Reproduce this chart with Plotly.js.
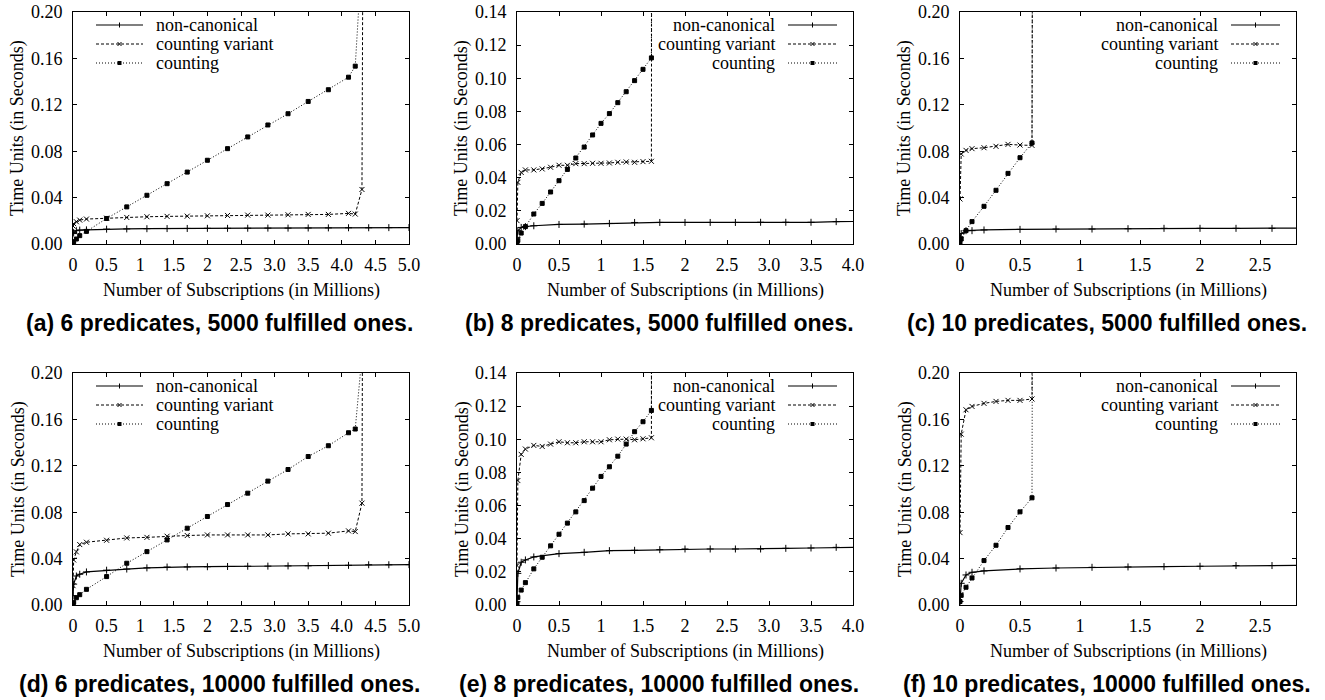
<!DOCTYPE html>
<html>
<head>
<meta charset="utf-8">
<script src="https://cdn.plot.ly/plotly-3.0.1.min.js"></script>
<style>html,body{margin:0;padding:0;background:#fff;}#chart{width:1325px;height:700px;}</style>
</head>
<body>
<div id="chart"></div>
<script>
// ---------------- DATA ----------------
const seriesNames = ['non-canonical', 'counting variant', 'counting'];
const captions = [
  '(a) 6 predicates, 5000 fulfilled ones.',
  '(b) 8 predicates, 5000 fulfilled ones.',
  '(c) 10 predicates, 5000 fulfilled ones.',
  '(d) 6 predicates, 10000 fulfilled ones.',
  '(e) 8 predicates, 10000 fulfilled ones.',
  '(f) 10 predicates, 10000 fulfilled ones.'
];
const xTitle = 'Number of Subscriptions (in Millions)';
const yTitle = 'Time Units (in Seconds)';

// tick labels
const x5Ticks = [0, 0.5, 1, 1.5, 2, 2.5, 3, 3.5, 4, 4.5, 5];
const x5Text  = ['0', '0.5', '1', '1.5', '2', '2.5', '3.0', '3.5', '4.0', '4.5', '5.0'];
const x4Ticks = [0, 0.5, 1, 1.5, 2, 2.5, 3, 3.5, 4];
const x4Text  = ['0', '0.5', '1', '1.5', '2', '2.5', '3.0', '3.5', '4.0'];
const x28Ticks = [0, 0.5, 1, 1.5, 2, 2.5];
const x28Text  = ['0', '0.5', '1', '1.5', '2', '2.5'];

// (a) 6 predicates, 5000
const a_nc_x  = [0, 0.01, 0.05, 0.1, 0.2, 0.5, 0.8, 1.1, 1.4, 1.7, 2.0, 2.3, 2.6, 2.9, 3.2, 3.5, 3.8, 4.1, 4.4, 4.7, 5.0];
const a_nc_y  = [0.009, 0.010, 0.0115, 0.012, 0.0122, 0.0128, 0.013, 0.0132, 0.0133, 0.0134, 0.0135, 0.0135, 0.0136, 0.0137, 0.0137, 0.0138, 0.0139, 0.014, 0.014, 0.0141, 0.0142];
const a_var_x = [0, 0.01, 0.05, 0.1, 0.2, 0.5, 0.8, 1.1, 1.4, 1.7, 2.0, 2.3, 2.6, 2.9, 3.2, 3.5, 3.8, 4.1, 4.2, 4.3, 4.4];
const a_var_y = [0.0155, 0.0175, 0.0192, 0.0206, 0.0215, 0.0223, 0.0229, 0.0235, 0.0238, 0.024, 0.0243, 0.0246, 0.0249, 0.0249, 0.0252, 0.0255, 0.0255, 0.0264, 0.0258, 0.047, 1.6];
const a_cnt_x = [0, 0.01, 0.05, 0.1, 0.2, 0.5, 0.8, 1.1, 1.4, 1.7, 2.0, 2.3, 2.6, 2.9, 3.2, 3.5, 3.8, 4.1, 4.2, 4.3];
const a_cnt_y = [0.0006, 0.002, 0.0043, 0.0072, 0.0109, 0.022, 0.032, 0.042, 0.052, 0.062, 0.0722, 0.0822, 0.0923, 0.1026, 0.1123, 0.1229, 0.133, 0.1438, 0.1533, 0.25];

// (b) 8 predicates, 5000
const b_nc_x  = [0, 0.01, 0.05, 0.1, 0.2, 0.5, 0.8, 1.1, 1.4, 1.7, 2.0, 2.3, 2.6, 2.9, 3.2, 3.5, 3.8, 4.1];
const b_nc_y  = [0.004, 0.008, 0.0100, 0.0105, 0.011, 0.0118, 0.012, 0.0124, 0.013, 0.013, 0.013, 0.013, 0.013, 0.0131, 0.0131, 0.0131, 0.0135, 0.0136];
const b_var_x = [0, 0.01, 0.05, 0.1, 0.2, 0.3, 0.4, 0.5, 0.6, 0.7, 0.8, 0.9, 1.0, 1.1, 1.2, 1.3, 1.4, 1.5, 1.6, 1.7];
const b_var_y = [0.0141, 0.0372, 0.0432, 0.0447, 0.0447, 0.0453, 0.0463, 0.0475, 0.0475, 0.0485, 0.0485, 0.0487, 0.0487, 0.0489, 0.0493, 0.0495, 0.0493, 0.0497, 0.0499, 5];
const b_cnt_x = [0, 0.01, 0.05, 0.1, 0.2, 0.3, 0.4, 0.5, 0.6, 0.7, 0.8, 0.9, 1.0, 1.1, 1.2, 1.3, 1.4, 1.5, 1.6, 1.7];
const b_cnt_y = [0.0006, 0.0022, 0.0066, 0.0105, 0.0181, 0.0245, 0.0314, 0.0382, 0.045, 0.0519, 0.0585, 0.0658, 0.0728, 0.0787, 0.0853, 0.0919, 0.0986, 0.1054, 0.1123, 5];

// (c) 10 predicates, 5000
const c_nc_x  = [0, 0.01, 0.05, 0.1, 0.2, 0.5, 0.8, 1.1, 1.4, 1.7, 2.0, 2.3, 2.6, 2.9];
const c_nc_y  = [0.006, 0.009, 0.0115, 0.0115, 0.0121, 0.0126, 0.0129, 0.0129, 0.0132, 0.0135, 0.0135, 0.0135, 0.0135, 0.0138];
const c_var_x = [0, 0.01, 0.05, 0.1, 0.2, 0.3, 0.4, 0.5, 0.6, 0.7];
const c_var_y = [0.0388, 0.0776, 0.0807, 0.0822, 0.083, 0.0842, 0.0859, 0.0853, 0.085, 5];
const c_cnt_x = [0, 0.01, 0.05, 0.1, 0.2, 0.3, 0.4, 0.5, 0.6, 0.7];
const c_cnt_y = [0.001, 0.0043, 0.0115, 0.0193, 0.0325, 0.0463, 0.0609, 0.0744, 0.0871, 5];

// (d) 6 predicates, 10000
const d_nc_x  = [0, 0.01, 0.05, 0.1, 0.2, 0.5, 0.8, 1.1, 1.4, 1.7, 2.0, 2.3, 2.6, 2.9, 3.2, 3.5, 3.8, 4.1, 4.4, 4.7, 5.0];
const d_nc_y  = [0.008, 0.018, 0.025, 0.0265, 0.0285, 0.030, 0.031, 0.032, 0.0327, 0.0328, 0.033, 0.0332, 0.0334, 0.0335, 0.0337, 0.0338, 0.034, 0.0342, 0.0347, 0.0347, 0.0348];
const d_var_x = [0, 0.01, 0.05, 0.1, 0.2, 0.5, 0.8, 1.1, 1.4, 1.7, 2.0, 2.3, 2.6, 2.9, 3.2, 3.5, 3.8, 4.1, 4.2, 4.3, 4.4];
const d_var_y = [0.0167, 0.0388, 0.0458, 0.0521, 0.0541, 0.0558, 0.0578, 0.0583, 0.0593, 0.0599, 0.0604, 0.0604, 0.0604, 0.0604, 0.0613, 0.0613, 0.0619, 0.0639, 0.0633, 0.0878, 2];
const d_cnt_x = [0, 0.01, 0.05, 0.1, 0.2, 0.5, 0.8, 1.1, 1.4, 1.7, 2.0, 2.3, 2.6, 2.9, 3.2, 3.5, 3.8, 4.1, 4.2, 4.3];
const d_cnt_y = [0.001, 0.0023, 0.0063, 0.0089, 0.0135, 0.0245, 0.036, 0.046, 0.0561, 0.0662, 0.0763, 0.0866, 0.0964, 0.1068, 0.1168, 0.128, 0.1373, 0.1485, 0.1517, 0.215];

// (e) 8 predicates, 10000
const e_nc_x  = [0, 0.01, 0.05, 0.1, 0.2, 0.5, 0.8, 1.1, 1.4, 1.7, 2.0, 2.3, 2.6, 2.9, 3.2, 3.5, 3.8, 4.1];
const e_nc_y  = [0.002, 0.0191, 0.0258, 0.0272, 0.029, 0.031, 0.0318, 0.0328, 0.033, 0.0334, 0.0338, 0.0338, 0.0338, 0.0338, 0.0342, 0.0344, 0.0348, 0.0348];
const e_var_x = [0, 0.01, 0.05, 0.1, 0.2, 0.3, 0.4, 0.5, 0.6, 0.7, 0.8, 0.9, 1.0, 1.1, 1.2, 1.3, 1.4, 1.5, 1.6, 1.7];
const e_var_y = [0.0238, 0.0751, 0.0909, 0.0941, 0.0963, 0.0957, 0.0971, 0.0985, 0.0979, 0.0979, 0.0985, 0.0985, 0.0985, 0.0997, 0.1001, 0.1001, 0.0997, 0.1003, 0.1009, 5];
const e_cnt_x = [0, 0.01, 0.05, 0.1, 0.2, 0.3, 0.4, 0.5, 0.6, 0.7, 0.8, 0.9, 1.0, 1.1, 1.2, 1.3, 1.4, 1.5, 1.6, 1.7];
const e_cnt_y = [0.001, 0.0046, 0.009, 0.0135, 0.0218, 0.0288, 0.0357, 0.0427, 0.0494, 0.0562, 0.063, 0.0705, 0.0776, 0.0834, 0.0898, 0.0971, 0.1046, 0.1106, 0.1174, 5];

// (f) 10 predicates, 10000
const f_nc_x  = [0, 0.01, 0.05, 0.1, 0.2, 0.5, 0.8, 1.1, 1.4, 1.7, 2.0, 2.3, 2.6, 2.9];
const f_nc_y  = [0.003, 0.0187, 0.0259, 0.0282, 0.0294, 0.0311, 0.0319, 0.0325, 0.0328, 0.0331, 0.0334, 0.034, 0.034, 0.0342];
const f_var_x = [0, 0.01, 0.05, 0.1, 0.2, 0.3, 0.4, 0.5, 0.6, 0.7];
const f_var_y = [0.0624, 0.1473, 0.1683, 0.1712, 0.1738, 0.1755, 0.1764, 0.1764, 0.1776, 5];
const f_cnt_x = [0, 0.01, 0.05, 0.1, 0.2, 0.3, 0.4, 0.5, 0.6, 0.7];
const f_cnt_y = [0.003, 0.0083, 0.0153, 0.0233, 0.0383, 0.0515, 0.0668, 0.0803, 0.0924, 5];

// ---------------- LAYOUT / STYLE ----------------
const W = 1325, H = 700;
const PX = x => x / W;
const PY = y => 1 - y / H;
const SERIF = 'Liberation Serif, Times New Roman, serif';
const SANS = 'Liberation Sans, Arial, Helvetica, sans-serif';

const styles = [
  {dash: 'solid', width: 1.2, symbol: 'cross-thin-open', size: 5},
  {dash: '3px,2px', width: 1, symbol: 'x-thin-open', size: 5},
  {dash: '1px,2px', width: 1, symbol: 'square', size: 4}
];

const panels = [
  {xd: [73, 409],  yd: [12, 244],  xr: [0, 5],   xt: x5Ticks,  xl: x5Text,  yr: [0, 0.20], dy: 0.04, leg: 'left',
   data: [[a_nc_x, a_nc_y], [a_var_x, a_var_y], [a_cnt_x, a_cnt_y]]},
  {xd: [517, 853], yd: [12, 244],  xr: [0, 4],   xt: x4Ticks,  xl: x4Text,  yr: [0, 0.14], dy: 0.02, leg: 'right',
   data: [[b_nc_x, b_nc_y], [b_var_x, b_var_y], [b_cnt_x, b_cnt_y]]},
  {xd: [960, 1296], yd: [12, 244], xr: [0, 2.8], xt: x28Ticks, xl: x28Text, yr: [0, 0.20], dy: 0.04, leg: 'right',
   data: [[c_nc_x, c_nc_y], [c_var_x, c_var_y], [c_cnt_x, c_cnt_y]]},
  {xd: [73, 409],  yd: [373, 605], xr: [0, 5],   xt: x5Ticks,  xl: x5Text,  yr: [0, 0.20], dy: 0.04, leg: 'left',
   data: [[d_nc_x, d_nc_y], [d_var_x, d_var_y], [d_cnt_x, d_cnt_y]]},
  {xd: [517, 853], yd: [373, 605], xr: [0, 4],   xt: x4Ticks,  xl: x4Text,  yr: [0, 0.14], dy: 0.02, leg: 'right',
   data: [[e_nc_x, e_nc_y], [e_var_x, e_var_y], [e_cnt_x, e_cnt_y]]},
  {xd: [960, 1296], yd: [373, 605], xr: [0, 2.8], xt: x28Ticks, xl: x28Text, yr: [0, 0.20], dy: 0.04, leg: 'right',
   data: [[f_nc_x, f_nc_y], [f_var_x, f_var_y], [f_cnt_x, f_cnt_y]]}
];
const captionX = [219, 659, 1107, 219, 659, 1107];

const traces = [];
const layout = {
  width: W, height: H,
  margin: {l: 0, r: 0, t: 0, b: 0},
  paper_bgcolor: '#fff', plot_bgcolor: '#fff',
  showlegend: false,
  font: {family: SERIF, size: 18, color: '#000'},
  annotations: [], shapes: []
};

panels.forEach((p, i) => {
  const n = i + 1;
  const xa = 'xaxis' + (n === 1 ? '' : n);
  const ya = 'yaxis' + (n === 1 ? '' : n);
  const xr = 'x' + (n === 1 ? '' : n);
  const yr = 'y' + (n === 1 ? '' : n);
  const axCommon = {
    showline: true, linecolor: '#000', linewidth: 1, mirror: 'allticks',
    ticks: 'inside', ticklen: 4, tickwidth: 1, tickcolor: '#000',
    showgrid: false, zeroline: false, fixedrange: true,
    tickfont: {family: SERIF, size: 18, color: '#000'}
  };
  layout[xa] = Object.assign({}, axCommon, {
    domain: [PX(p.xd[0]), PX(p.xd[1])], anchor: yr, range: p.xr,
    tickmode: 'array', tickvals: p.xt, ticktext: p.xl, ticklabelstandoff: 4
  });
  layout[ya] = Object.assign({}, axCommon, {
    domain: [PY(p.yd[1]), PY(p.yd[0])], anchor: xr, range: p.yr,
    tickmode: 'linear', tick0: 0, dtick: p.dy, tickformat: '.2f', ticklabelstandoff: 6
  });

  p.data.forEach((d, k) => {
    const s = styles[k];
    traces.push({
      type: 'scatter', mode: 'lines+markers', name: seriesNames[k],
      x: d[0], y: d[1], xaxis: xr, yaxis: yr,
      line: {color: '#000', width: s.width, dash: s.dash},
      marker: {symbol: s.symbol, size: s.size, color: '#000', line: {color: '#000', width: 1}},
      hoverinfo: 'skip'
    });
  });

  // axis titles
  layout.annotations.push({
    xref: 'paper', yref: 'paper', x: PX((p.xd[0] + p.xd[1]) / 2), y: PY(p.yd[1] + 46),
    text: xTitle, showarrow: false, xanchor: 'center', yanchor: 'middle',
    font: {family: SERIF, size: 18, color: '#000'}
  });
  layout.annotations.push({
    xref: 'paper', yref: 'paper', x: PX(p.xd[0] - 55), y: PY((p.yd[0] + p.yd[1]) / 2),
    text: yTitle, showarrow: false, textangle: -90, xanchor: 'center', yanchor: 'middle',
    font: {family: SERIF, size: 18, color: '#000'}
  });
  // caption
  layout.annotations.push({
    xref: 'paper', yref: 'paper', x: PX(captionX[i]), y: PY(p.yd[1] + 79),
    text: '<b>' + captions[i] + '</b>', showarrow: false, xanchor: 'center', yanchor: 'middle',
    font: {family: SANS, size: 23, color: '#000'}
  });

  // legend (gnuplot style)
  const rowsY = [13, 32, 51].map(v => p.yd[0] + v);
  rowsY.forEach((ry, k) => {
    const s = styles[k];
    let x0, x1, tx, anchor;
    if (p.leg === 'left') {
      x0 = p.xd[0] + 23; x1 = p.xd[0] + 70; tx = p.xd[0] + 81; anchor = 'left';
    } else {
      x0 = p.xd[1] - 65; x1 = p.xd[1] - 16; tx = p.xd[1] - 76; anchor = 'right';
    }
    layout.annotations.push({
      xref: 'paper', yref: 'paper', x: PX(tx), y: PY(ry),
      text: seriesNames[k], showarrow: false, xanchor: anchor, yanchor: 'middle',
      font: {family: SERIF, size: 18, color: '#000'}
    });
    layout.shapes.push({
      type: 'line', xref: 'paper', yref: 'paper',
      x0: PX(x0), x1: PX(x1), y0: PY(ry), y1: PY(ry),
      line: {color: '#000', width: s.width, dash: s.dash}
    });
    const cx = (x0 + x1) / 2;
    if (k === 0) {
      layout.shapes.push({type: 'line', xref: 'paper', yref: 'paper', x0: PX(cx), x1: PX(cx), y0: PY(ry - 2.5), y1: PY(ry + 2.5), line: {color: '#000', width: 1}});
    } else if (k === 1) {
      layout.shapes.push({type: 'line', xref: 'paper', yref: 'paper', x0: PX(cx - 2), x1: PX(cx + 2), y0: PY(ry - 2), y1: PY(ry + 2), line: {color: '#000', width: 1}});
      layout.shapes.push({type: 'line', xref: 'paper', yref: 'paper', x0: PX(cx - 2), x1: PX(cx + 2), y0: PY(ry + 2), y1: PY(ry - 2), line: {color: '#000', width: 1}});
    } else {
      layout.shapes.push({type: 'rect', xref: 'paper', yref: 'paper', x0: PX(cx - 2), x1: PX(cx + 2), y0: PY(ry - 2), y1: PY(ry + 2), fillcolor: '#000', line: {width: 0}});
    }
  });
});

Plotly.newPlot('chart', traces, layout, {staticPlot: true, displayModeBar: false});
</script>
</body>
</html>
